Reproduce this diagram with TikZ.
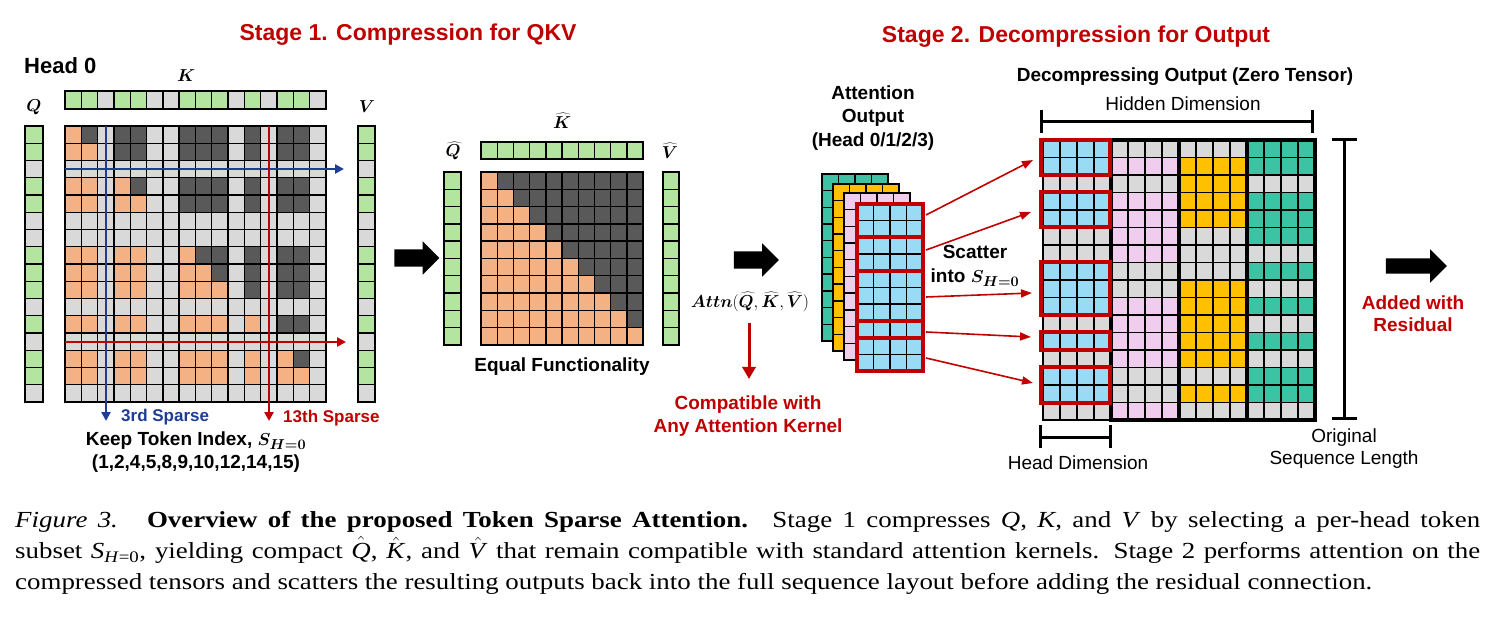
\documentclass[tikz,border=0pt]{standalone}
\usepackage{fontspec}
\setmainfont{Liberation Sans}
\newfontfamily\capfont[FakeStretch=1.17]{Liberation Serif}
\usepackage{bm}
\usetikzlibrary{arrows.meta,shapes.arrows}

\definecolor{cGreen}{HTML}{B3E5A1}
\definecolor{cLight}{HTML}{D9D9D9}
\definecolor{cDark}{HTML}{595959}
\definecolor{cOrange}{HTML}{F4B183}
\definecolor{cBlue}{HTML}{99DAF5}
\definecolor{cPink}{HTML}{F0CDEE}
\definecolor{cYellow}{HTML}{FFC000}
\definecolor{cTeal}{HTML}{3CC3A3}
\definecolor{cRed}{HTML}{C00000}
\definecolor{cNavy}{HTML}{1F3C96}

\newcommand{\keepA}{{1,1,0,1,1,0,0,1,1,1,0,1,0,1,1,0}}
\newcommand{\keepB}{{0,1,0,1,1,1,1,0,0,1,1,1,1,0,0,1}}
\newcommand{\keepC}{{0,1,1,1,1,0,0,0,1,1,1,1,1,0,1,0}}
\newcommand{\keepD}{{1,1,0,1,1,1,0,1,0,1,0,1,0,1,1,0}}
\newcommand{\capsym}[1]{\textit{#1}}
\newcommand{\caphat}[1]{\smash{$\hat{\mbox{\textit{#1}}}$}}

\newcommand{\headcolumn}[3]{%
  \foreach \r in {1,...,16}{
    \pgfmathtruncatemacro\rowflag{#3[\r-1]}
    \ifnum\rowflag=1 \def\cellcol{#2}\else\def\cellcol{cLight}\fi
    \foreach \c in {1,...,4}
      \draw[cell, fill=\cellcol] ({#1+(\c-1)*17},{140+(\r-1)*17.5}) rectangle +(17,17.5);
  }%
}

\tikzset{
  cell/.style={draw=black, line width=1.4pt},
  thickframe/.style={draw=black, line width=4pt},
  redbox/.style={draw=cRed, line width=4pt},
  lbl/.style={font=\bfseries\fontsize{19}{23.5}\selectfont, align=center, inner sep=0pt},
  dimtext/.style={font=\fontsize{19}{22}\selectfont, align=center, inner sep=0pt},
  stagetitle/.style={font=\bfseries\fontsize{23}{27}\selectfont, text=cRed, inner sep=0pt},
  mathlbl/.style={font=\fontsize{17}{20}\selectfont, inner sep=0pt},
  bigarrow/.style={single arrow, fill=black, draw=none, minimum height=45pt, single arrow head extend=8pt, inner sep=0pt},
  sparse/.style={line width=2.5pt, -{Triangle[width=9pt,length=9pt]}},
  scatterarrow/.style={draw=cRed, line width=1.6pt, -{Triangle[width=8pt,length=11pt]}},
  dimbar/.style={line width=3pt},
}

\begin{document}
\begin{tikzpicture}[x=1pt, y=-1pt]
  \useasboundingbox (0,0) rectangle (1491,617);

  \node[stagetitle] (st1) at (408,35) {Stage 1. Compression for QKV};
  \node[stagetitle] (st2) at (1076,37) {Stage 2. Decompression for Output};
  \node[font=\bfseries\fontsize{22}{26}\selectfont, anchor=west, inner sep=0pt] (head) at (24,66) {Head 0};
  \node[mathlbl] (klbl) at (186,76) {$\bm{K}$};
  \node[mathlbl] (qlbl) at (34,107) {$\bm{Q}$};
  \node[mathlbl] (vlbl) at (367,107) {$\bm{V}$};

  \foreach \r in {1,...,16}{
    \pgfmathtruncatemacro\rowflag{\keepA[\r-1]}
    \ifnum\rowflag=1 \def\cellcol{cGreen}\else\def\cellcol{cLight}\fi
    \draw[cell, fill=\cellcol] (25,{126+(\r-1)*17.25}) rectangle +(18,17.25);
    \draw[cell, fill=\cellcol] (358,{126+(\r-1)*17.25}) rectangle +(17,17.25);
    \draw[cell, fill=\cellcol] ({65+(\r-1)*16.3},91) rectangle +(16.3,18);
    \foreach \c in {1,...,16}{
      \pgfmathtruncatemacro\colflag{\keepA[\c-1]}
      \def\cellcol{cLight}
      \ifnum\rowflag\colflag=11 \ifnum\c>\r \def\cellcol{cDark}\else\def\cellcol{cOrange}\fi\fi
      \draw[cell, fill=\cellcol] ({65+(\c-1)*16.3},{126+(\r-1)*17.25}) rectangle +(16.3,17.25);
    }
  }

  \coordinate (bTop) at (106,126);
  \coordinate (bBot) at (106,421);
  \coordinate (bLeft) at (65,169);
  \coordinate (bRight) at (344,169);
  \coordinate (rTop) at (269,126);
  \coordinate (rBot) at (269,421);
  \coordinate (rLeft) at (65,342);
  \coordinate (rRight) at (346,342);
  \draw[sparse, cNavy] (bTop) -- (bBot);
  \draw[sparse, cNavy] (bLeft) -- (bRight);
  \draw[sparse, cRed] (rTop) -- (rBot);
  \draw[sparse, cRed] (rLeft) -- (rRight);

  \node[font=\bfseries\fontsize{17}{20}\selectfont, text=cNavy, anchor=west, inner sep=0pt] (third) at (121,417) {3rd Sparse};
  \node[font=\bfseries\fontsize{17}{20}\selectfont, text=cRed, anchor=west, inner sep=0pt] (thirteenth) at (283,418) {13th Sparse};
  \node[lbl] (keep) at (196,452) {Keep Token Index, $\bm{S_{H=0}}$\\(1,2,4,5,8,9,10,12,14,15)};

  \node[bigarrow] (arrA) at (412.5,258) {\rule{0pt}{17pt}};

  \node[mathlbl] (qhat) at (453,151) {$\bm{\widehat{Q}}$};
  \node[mathlbl] (khat) at (562,121) {$\bm{\widehat{K}}$};
  \node[mathlbl] (vhat) at (670,151) {$\bm{\widehat{V}}$};
  \foreach \r in {1,...,10}{
    \draw[cell, fill=cGreen] (444,{172+(\r-1)*17.3}) rectangle +(17,17.3);
    \draw[cell, fill=cGreen] (663,{172+(\r-1)*17.3}) rectangle +(16,17.3);
    \draw[cell, fill=cGreen] ({481+(\r-1)*16.2},142) rectangle +(16.2,17);
    \foreach \c in {1,...,10}{
      \ifnum\c>\r \def\cellcol{cDark}\else\def\cellcol{cOrange}\fi
      \draw[cell, fill=\cellcol] ({481+(\c-1)*16.2},{172+(\r-1)*17.3}) rectangle +(16.2,17.3);
    }
  }
  \node[lbl] (equal) at (562,367) {Equal Functionality};

  \node[bigarrow] (arrB) at (752,260) {\rule{0pt}{17pt}};
  \node[mathlbl] (attn) at (750,302) {$\bm{Attn}(\bm{\widehat{Q}},\bm{\widehat{K}},\bm{\widehat{V}})$};
  \coordinate (kTop) at (749,323);
  \coordinate (kBot) at (749,379);
  \draw[cRed, line width=3pt, -{Triangle[width=13pt,length=12pt]}] (kTop) -- (kBot);
  \node[lbl, text=cRed] (compat) at (748,416) {Compatible with\\Any Attention Kernel};

  \node[lbl] (attout) at (873,118) {Attention\\Output\\(Head 0/1/2/3)};
  \foreach \lx/\ly/\lc in {822/174/cTeal, 833/184/cYellow, 844/193/cPink, 857/204/cBlue}{
    \foreach \r in {1,...,10}
      \foreach \c in {1,...,4}
        \draw[cell, fill=\lc] ({\lx+(\c-1)*16.5},{\ly+(\r-1)*16.7}) rectangle +(16.5,16.7);
    \draw[line width=2pt] (\lx,\ly) rectangle +(66,167);
  }
  \foreach \a/\b in {1/2,3/4,5/7,8/8,9/10}
    \draw[redbox] (857,{204+(\a-1)*16.7}) rectangle (923,{204+\b*16.7});
  \node[lbl] (scat) at (975,266) {Scatter\\into $\bm{S_{H=0}}$};

  \node[lbl] (decomp) at (1185,77) {Decompressing Output (Zero Tensor)};
  \node[dimtext] (hidden) at (1183,104) {Hidden Dimension};
  \draw[dimbar] (1041,110) -- (1041,133) (1041,122) -- (1312,122) (1312,110) -- (1312,133);

  \headcolumn{1043}{cBlue}{\keepA}
  \headcolumn{1111}{cPink}{\keepB}
  \headcolumn{1179}{cYellow}{\keepC}
  \headcolumn{1247}{cTeal}{\keepD}
  \draw[thickframe] (1111,140) rectangle (1315,420);
  \draw[thickframe] (1179,140) -- (1179,420) (1247,140) -- (1247,420);
  \foreach \a/\b in {1/2,4/5,8/10,12/12,14/15}
    \draw[redbox] (1041,{140+(\a-1)*17.5}) rectangle (1110,{140+\b*17.5});

  \foreach \i/\sy/\dx/\dy in {1/215/1033/160, 2/250/1031/212, 3/297/1032/293, 4/332/1031/337, 5/358/1033/383}{
    \coordinate (src\i) at (926,\sy);
    \coordinate (dst\i) at (\dx,\dy);
    \draw[scatterarrow] (src\i) -- (dst\i);
  }

  \draw[dimbar] (1332,140) -- (1357,140) (1344,140) -- (1344,418) (1332,418) -- (1357,418);
  \draw[dimbar] (1040,425) -- (1040,448) (1040,437) -- (1110,437) (1110,425) -- (1110,448);
  \node[dimtext] (headdim) at (1078,463) {Head Dimension};
  \node[dimtext] (origlen) at (1344,449) {Original\\Sequence Length};

  \node[bigarrow, minimum height=61pt, single arrow head extend=9pt] (arrC) at (1412.5,266) {\rule{0pt}{15pt}};
  \node[lbl, text=cRed, font=\bfseries\fontsize{19}{22}\selectfont] (added) at (1413,314) {Added with\\Residual};

  \node[anchor=north west, text width=1465pt, align=justify, inner sep=0pt,
        font=\capfont\fontsize{23}{31}\selectfont] (cap) at (15,511)
    {\textit{Figure 3.}\hspace{0.4em} \textbf{Overview of the proposed Token Sparse Attention.}\hspace{0.2em} Stage 1 compresses \capsym{Q}, \capsym{K}, and \capsym{V} by selecting a per-head token\linebreak subset \capsym{S}\textsubscript{\textit{H}=0}, yielding compact \caphat{Q}, \caphat{K}, and \caphat{V} that remain compatible with standard attention kernels. Stage 2 performs attention on the\linebreak compressed tensors and scatters the resulting outputs back into the full sequence layout before adding the residual connection.};
\end{tikzpicture}
\end{document}
